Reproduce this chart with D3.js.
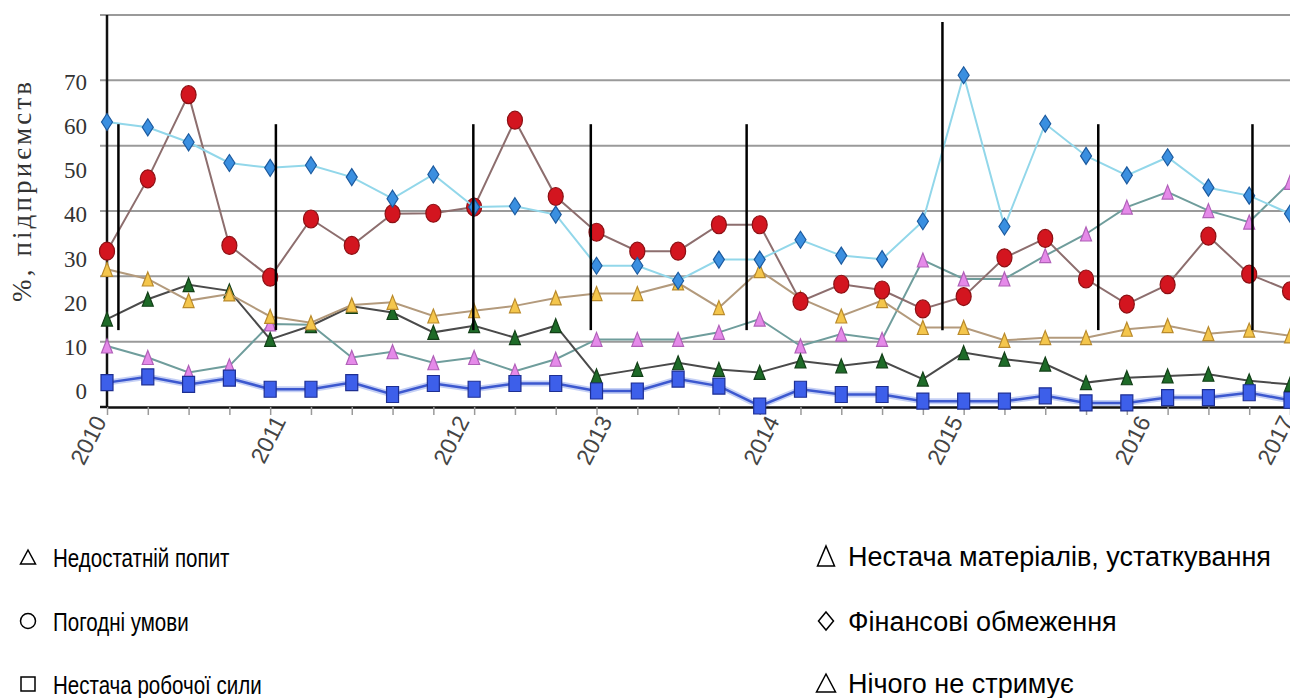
<!DOCTYPE html>
<html>
<head>
  <meta charset="utf-8">
  <title>Чинники, що стримують діяльність підприємств</title>
  <style>
    body { margin: 0; background: #fff; }
    svg { display: block; }
  </style>
</head>
<body>
<div id="container"></div>
<script src="https://cdnjs.cloudflare.com/ajax/libs/d3/7.8.5/d3.min.js"></script>
<script>
  // quarterly survey, 2010 I - 2017 II
  var quarters = [
    '2010 I', '2010 II', '2010 III', '2010 IV',
    '2011 I', '2011 II', '2011 III', '2011 IV',
    '2012 I', '2012 II', '2012 III', '2012 IV',
    '2013 I', '2013 II', '2013 III', '2013 IV',
    '2014 I', '2014 II', '2014 III', '2014 IV',
    '2015 I', '2015 II', '2015 III', '2015 IV',
    '2016 I', '2016 II', '2016 III', '2016 IV',
    '2017 I', '2017 II'
  ];

  var financial = [61.0, 59.8, 56.4, 51.7, 50.6, 51.2, 48.5, 43.6, 49.1, 41.7, 41.9, 40.0, 28.4, 28.4, 25.0,
                   29.8, 29.8, 34.3, 30.7, 29.9, 38.5, 71.6, 37.3, 60.6, 53.3, 48.9, 53.0, 46.1, 44.3, 40.2];
  var weather = [31.7, 48.1, 67.2, 33.0, 25.8, 39.0, 33.0, 40.2, 40.3, 41.7, 61.4, 44.1, 36.0, 31.7, 31.7,
                 37.7, 37.7, 20.3, 24.2, 22.9, 18.6, 21.4, 30.2, 34.6, 25.4, 19.7, 24.1, 35.1, 26.5, 22.7];
  var demand = [27.6, 25.4, 20.5, 22.0, 16.9, 15.5, 19.5, 20.1, 17.0, 18.2, 19.3, 21.1, 22.1, 22.1, 24.5,
                18.9, 27.3, 21.0, 17.0, 20.5, 14.4, 14.4, 11.5, 12.1, 12.1, 14.0, 14.8, 13.0, 13.8, 12.5];
  var materials = [16.3, 20.8, 24.1, 22.7, 11.7, 14.8, 19.2, 17.8, 13.3, 14.8, 12.1, 14.8, 3.4, 4.9, 6.4,
                   4.9, 4.2, 6.8, 5.7, 6.8, 2.7, 8.7, 7.2, 6.1, 1.9, 3.0, 3.4, 3.8, 2.3, 1.5];
  var nothing = [10.2, 7.6, 4.2, 5.7, 15.2, 15.0, 7.6, 8.9, 6.4, 7.6, 4.5, 7.2, 11.7, 11.7, 11.7,
                 13.3, 16.3, 10.2, 12.9, 11.7, 29.7, 25.4, 25.4, 30.7, 35.6, 41.7, 45.1, 40.9, 38.3, 47.3];
  var labour = [1.9, 3.2, 1.5, 2.9, 0.4, 0.4, 1.9, -0.8, 1.7, 0.4, 1.7, 1.7, 0.0, 0.0, 2.7,
                1.1, -3.4, 0.4, -0.8, -0.8, -2.3, -2.3, -2.3, -1.1, -2.7, -2.7, -1.5, -1.5, -0.4, -2.1];

  var yTicks = [0, 10, 20, 30, 40, 50, 60, 70];
  var yearLabels = ['2010', '2011', '2012', '2013', '2014', '2015', '2016', '2017'];
  // where each year label sits, in quarter steps from the first point
  var yearAt = [0, 4.4, 8.9, 12.4, 16.5, 21.0, 25.6, 29.1];
  // the black marker lines drawn over the plot, in quarter steps
  var dividerAt = [0.28, 4.14, 8.98, 11.86, 15.68, 20.48, 24.30, 28.08];
  var dividerTop = [60.5, 60.5, 60.5, 60.5, 60.5, 83.7, 60.5, 60.5];

  var legendLeft = ['Недостатній попит', 'Погодні умови', 'Нестача робочої сили'];
  var legendRight = ['Нестача матеріалів, устаткування', 'Фінансові обмеження', 'Нічого не стримує'];

  var series = [
    {values: nothing, shape: 'triangle', fill: '#e58ae9', stroke: '#b060b8', line: '#6f9d9c'},
    {values: materials, shape: 'triangle', fill: '#1e6b28', stroke: '#123f17', line: '#4a4a4a'},
    {values: demand, shape: 'triangle', fill: '#f4c64c', stroke: '#b98a2c', line: '#b39a7c'},
    {values: weather, shape: 'circle', fill: '#d3151f', stroke: '#8c1014', line: '#8d6e6e'},
    {values: financial, shape: 'diamond', fill: '#3a8fe0', stroke: '#1c5a9e', line: '#92d7ea'},
    {values: labour, shape: 'square', fill: '#3d5fea', stroke: '#1e2f92', line: '#3c58cf'}
  ];

  var width = 1290, height = 698;

  var svg = d3.select('#container')
    .append('svg')
    .attr('width', width)
    .attr('height', height);

  var x = d3.scalePoint().domain(quarters).range([107, 1290]);
  var y = d3.scaleLinear().domain([-3.63, 85.26]).range([407, 15]);
  var grid = d3.scaleLinear().domain([0, 6]).range([407, 15]);

  var qx = function(pos) {
    return x(quarters[0]) + pos * x.step();
  };

  // horizontal grid
  svg.append('g')
    .selectAll('line')
    .data(d3.range(1, 7))
    .enter()
    .append('line')
    .attr('x1', 100)
    .attr('x2', width)
    .attr('y1', function(d) { return grid(d); })
    .attr('y2', function(d) { return grid(d); })
    .attr('stroke', '#9a9a9a')
    .attr('stroke-width', 2);

  // x axis: small ticks, no labels
  var xAxis = svg.append('g')
    .attr('transform', 'translate(0,' + grid(0) + ')')
    .call(d3.axisBottom(x).tickSize(8).tickSizeOuter(0).tickFormat(''));
  xAxis.selectAll('.tick line').attr('stroke', '#9a9a9a').attr('stroke-width', 1.5);
  xAxis.select('.domain').attr('stroke', '#111').attr('stroke-width', 2.5);

  svg.append('line')
    .attr('x1', 100)
    .attr('x2', 107)
    .attr('y1', grid(0))
    .attr('y2', grid(0))
    .attr('stroke', '#111')
    .attr('stroke-width', 2.5);

  // y axis line
  svg.append('line')
    .attr('x1', 107)
    .attr('x2', 107)
    .attr('y1', grid(6))
    .attr('y2', grid(0))
    .attr('stroke', '#111')
    .attr('stroke-width', 2.5);

  var yAxis = svg.append('g')
    .attr('transform', 'translate(87,0)')
    .call(d3.axisLeft(y).tickValues(yTicks).tickSize(0).tickPadding(0));
  yAxis.select('.domain').remove();
  yAxis.selectAll('text')
    .attr('font-family', '"Liberation Serif", "Times New Roman", serif')
    .attr('font-size', 23)
    .attr('fill', '#333');

  svg.append('text')
    .attr('transform', 'translate(31,192) rotate(-90)')
    .attr('text-anchor', 'middle')
    .attr('font-family', '"Liberation Serif", "Times New Roman", serif')
    .attr('font-size', 27)
    .attr('fill', '#333')
    .attr('textLength', 220)
    .text('%, підприємств');

  // year labels
  svg.append('g')
    .selectAll('text')
    .data(yearLabels)
    .enter()
    .append('text')
    .attr('transform', function(d, i) {
      return 'translate(' + qx(yearAt[i]) + ',421) rotate(-63)';
    })
    .attr('text-anchor', 'end')
    .attr('font-family', '"Liberation Sans", Arial, sans-serif')
    .attr('font-size', 23)
    .attr('fill', '#444')
    .text(function(d) { return d; });

  var markerPath = function(shape, w, h) {
    var p = d3.path();
    if (shape === 'diamond') {
      p.moveTo(0, -h / 2); p.lineTo(w / 2, 0); p.lineTo(0, h / 2); p.lineTo(-w / 2, 0); p.closePath();
    } else if (shape === 'triangle') {
      p.moveTo(0, -h / 2); p.lineTo(w / 2, h / 2); p.lineTo(-w / 2, h / 2); p.closePath();
    } else if (shape === 'square') {
      p.rect(-w / 2, -h / 2, w, h);
    }
    return p.toString();
  };

  var markerSize = {diamond: [11, 17], triangle: [11, 14], square: [12, 16]};

  var line = d3.line()
    .x(function(d, i) { return x(quarters[i]); })
    .y(function(d) { return y(d); });

  series.forEach(function(s) {
    var g = svg.append('g');

    if (s.shape === 'square') {
      g.append('path')
        .attr('d', line(s.values))
        .attr('fill', 'none')
        .attr('stroke', '#9fb0ef')
        .attr('stroke-width', 6)
        .attr('opacity', 0.6);
    }

    g.append('path')
      .attr('d', line(s.values))
      .attr('fill', 'none')
      .attr('stroke', s.line)
      .attr('stroke-width', s.shape === 'square' ? 2.5 : 2);

    var pts = g.selectAll('.pt')
      .data(s.values)
      .enter()
      .append('g')
      .attr('transform', function(d, i) {
        return 'translate(' + x(quarters[i]) + ',' + y(d) + ')';
      });

    if (s.shape === 'circle') {
      pts.append('ellipse')
        .attr('rx', 7.5)
        .attr('ry', 9)
        .attr('fill', s.fill)
        .attr('stroke', s.stroke)
        .attr('stroke-width', 1.2);
    } else {
      var sz = markerSize[s.shape];
      pts.append('path')
        .attr('d', markerPath(s.shape, sz[0], sz[1]))
        .attr('fill', s.fill)
        .attr('stroke', s.stroke)
        .attr('stroke-width', 1.2);
    }
  });

  // black divider lines
  svg.append('g')
    .selectAll('line')
    .data(dividerAt)
    .enter()
    .append('line')
    .attr('x1', function(d) { return qx(d); })
    .attr('x2', function(d) { return qx(d); })
    .attr('y1', function(d, i) { return y(dividerTop[i]); })
    .attr('y2', y(13.8))
    .attr('stroke', '#000')
    .attr('stroke-width', 2.5);

  // legend
  var legendShape = function(g, shape, w, h) {
    if (shape === 'circle') {
      g.append('circle').attr('r', w / 2);
    } else {
      g.append('path').attr('d', markerPath(shape, w, h));
    }
    g.selectAll('*').attr('fill', 'none').attr('stroke', '#000').attr('stroke-width', 1.5);
  };

  var leftShapes = [['triangle', 15, 14], ['circle', 15, 15], ['square', 14, 14]];
  var rightShapes = [['triangle', 17, 20], ['diamond', 15, 18], ['triangle', 19, 18]];
  var leftRows = [557, 621, 684];
  var rightRows = [556, 621, 683];

  legendLeft.forEach(function(label, i) {
    var g = svg.append('g').attr('transform', 'translate(28,' + leftRows[i] + ')');
    legendShape(g, leftShapes[i][0], leftShapes[i][1], leftShapes[i][2]);
    // the left column is set in a condensed face
    svg.append('text')
      .attr('transform', 'translate(53,' + (leftRows[i] + 9.5) + ') scale(0.79,1)')
      .attr('font-family', '"Liberation Sans", Arial, sans-serif')
      .attr('font-size', 26)
      .attr('fill', '#000')
      .text(label);
  });

  legendRight.forEach(function(label, i) {
    var g = svg.append('g').attr('transform', 'translate(826,' + rightRows[i] + ')');
    legendShape(g, rightShapes[i][0], rightShapes[i][1], rightShapes[i][2]);
    svg.append('text')
      .attr('x', 848)
      .attr('y', rightRows[i] + 10)
      .attr('font-family', '"Liberation Sans", Arial, sans-serif')
      .attr('font-size', 27)
      .attr('fill', '#000')
      .text(label);
  });
</script>
</body>
</html>
